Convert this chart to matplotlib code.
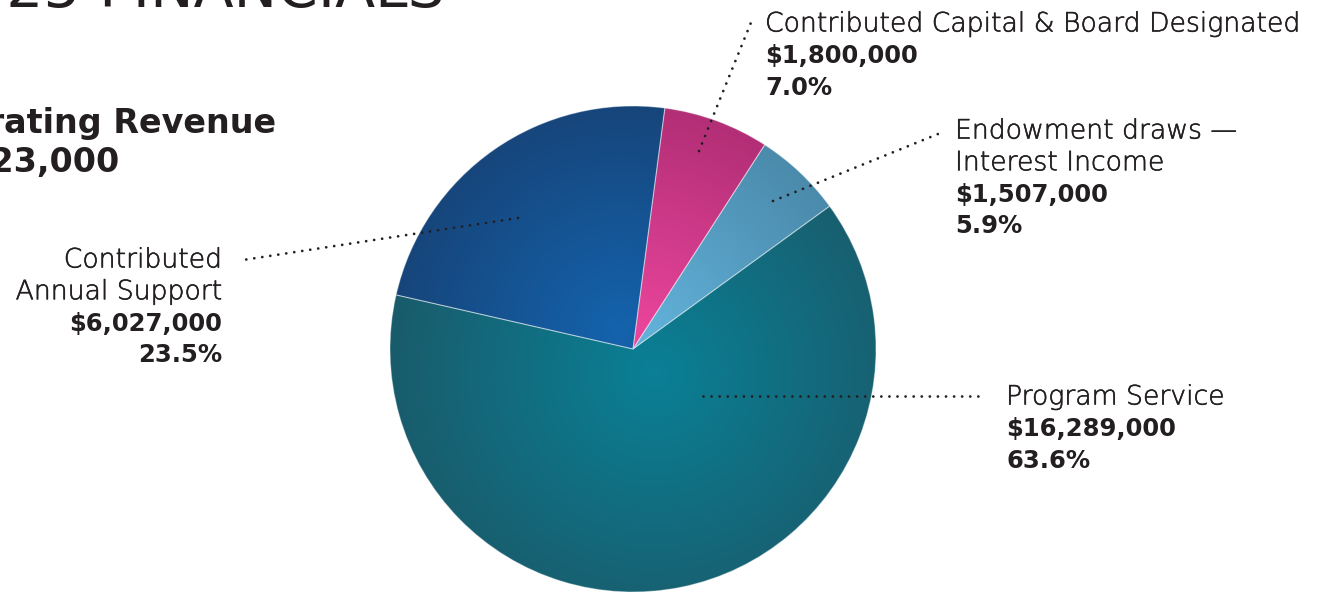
import numpy as np
import matplotlib
matplotlib.use("Agg")
import matplotlib.pyplot as plt
import matplotlib.patheffects as pe
from matplotlib.colors import to_rgb

W, H = 1320, 593

# data (counterclockwise from the start angle)
names = ["Endowment draws \u2014\nInterest Income",
         "Contributed Capital & Board Designated",
         "Contributed\nAnnual Support",
         "Program Service"]
values = [1507000, 1800000, 6027000, 16289000]
heading = "2025 FINANCIALS"
title = "Operating Revenue"

# gradient colours per slice: (inner, outer)
inner_cols = ["#62b2da", "#ea459c", "#1463ad", "#0a8096"]
outer_cols = ["#4784a4", "#aa2b70", "#173e6e", "#1b5766"]

total = sum(values)
pcts = [v / total * 100 for v in values]

plt.rcParams['font.family'] = ['DejaVu Sans']
ink = "#231f20"

fig = plt.figure(figsize=(W / 100, H / 100), dpi=100)
ax = fig.add_axes([0, 0, 1, 1])

def yy(y):
    return H - y

cx, cy, R = 633, 349, 243
wedges, _ = ax.pie(values, startangle=36, center=(cx, yy(cy)), radius=R,
                   counterclock=True,
                   wedgeprops=dict(linewidth=0.8, edgecolor=(1, 1, 1, 0.35)))

# radial gradient fills clipped to each wedge
foci = [(640, 330), (640, 335), (620, 330), (655, 373)]
spread = [260, 260, 280, 300]
xs = np.linspace(cx - R, cx + R, 500)
ys = np.linspace(yy(cy) - R, yy(cy) + R, 500)
X, Y = np.meshgrid(xs, ys)
for w, f, s, ci, co in zip(wedges, foci, spread, inner_cols, outer_cols):
    d = np.hypot(X - f[0], Y - yy(f[1])) / s
    t = np.clip(d, 0, 1)[..., None]
    img = (1 - t) * np.array(to_rgb(ci)) + t * np.array(to_rgb(co))
    im = ax.imshow(img, extent=(xs[0], xs[-1], ys[0], ys[-1]), origin='lower',
                   interpolation='bilinear', zorder=1)
    im.set_clip_path(w)
    w.set_facecolor('none')
    w.set_zorder(2)

# dotted leader lines
leaders = [((773, 201), (938, 134)),
           ((699, 151), (752, 20)),
           ((518, 218), (243, 260)),
           ((703, 396), (985, 396))]
for (x1, y1), (x2, y2) in leaders:
    ax.plot([x1, x2], [yy(y1), yy(y2)], color=ink, lw=2.0,
            linestyle=(0, (0.01, 2.9)), dash_capstyle='round', zorder=3)

# slice labels: (x, first line centre, alignment)
label_pos = [(955, 129, 'left'), (765, 22, 'left'),
             (222, 258, 'right'), (1006, 395, 'left')]
fs = 17.5
fs_name = 19.2
step = 31.8
thick = [pe.withStroke(linewidth=0.4, foreground=ink)]
for name, v, p, (x, y0, ha) in zip(names, values, pcts, label_pos):
    lines = name.split("\n")
    y = y0
    for ln in lines:
        ax.text(x, yy(y + 9.5), ln, ha=ha, va='baseline', fontsize=fs_name,
                fontweight='light', color=ink, path_effects=thick)
        y += step
    ax.text(x, yy(y + 9), f"${v:,.0f}", ha=ha, va='baseline', fontsize=fs,
            fontweight='bold', color=ink)
    y += step
    ax.text(x, yy(y + 9), f"{p:.1f}%", ha=ha, va='baseline', fontsize=fs,
            fontweight='bold', color=ink)

# title block (partly off canvas on the left)
ax.text(276, yy(133), title, ha='right', va='baseline', fontsize=24,
        fontweight='bold', color=ink)
ax.text(120, yy(172), f"${total:,.0f}", ha='right', va='baseline',
        fontsize=24, fontweight='bold', color=ink)
ax.text(445, yy(7), heading, ha='right', va='baseline', fontsize=42,
        fontweight='normal', color=ink)

ax.set_xlim(0, W)
ax.set_ylim(0, H)
ax.set_aspect('auto')
ax.axis('off')

fig.savefig("out.png", dpi=100, facecolor='white')
